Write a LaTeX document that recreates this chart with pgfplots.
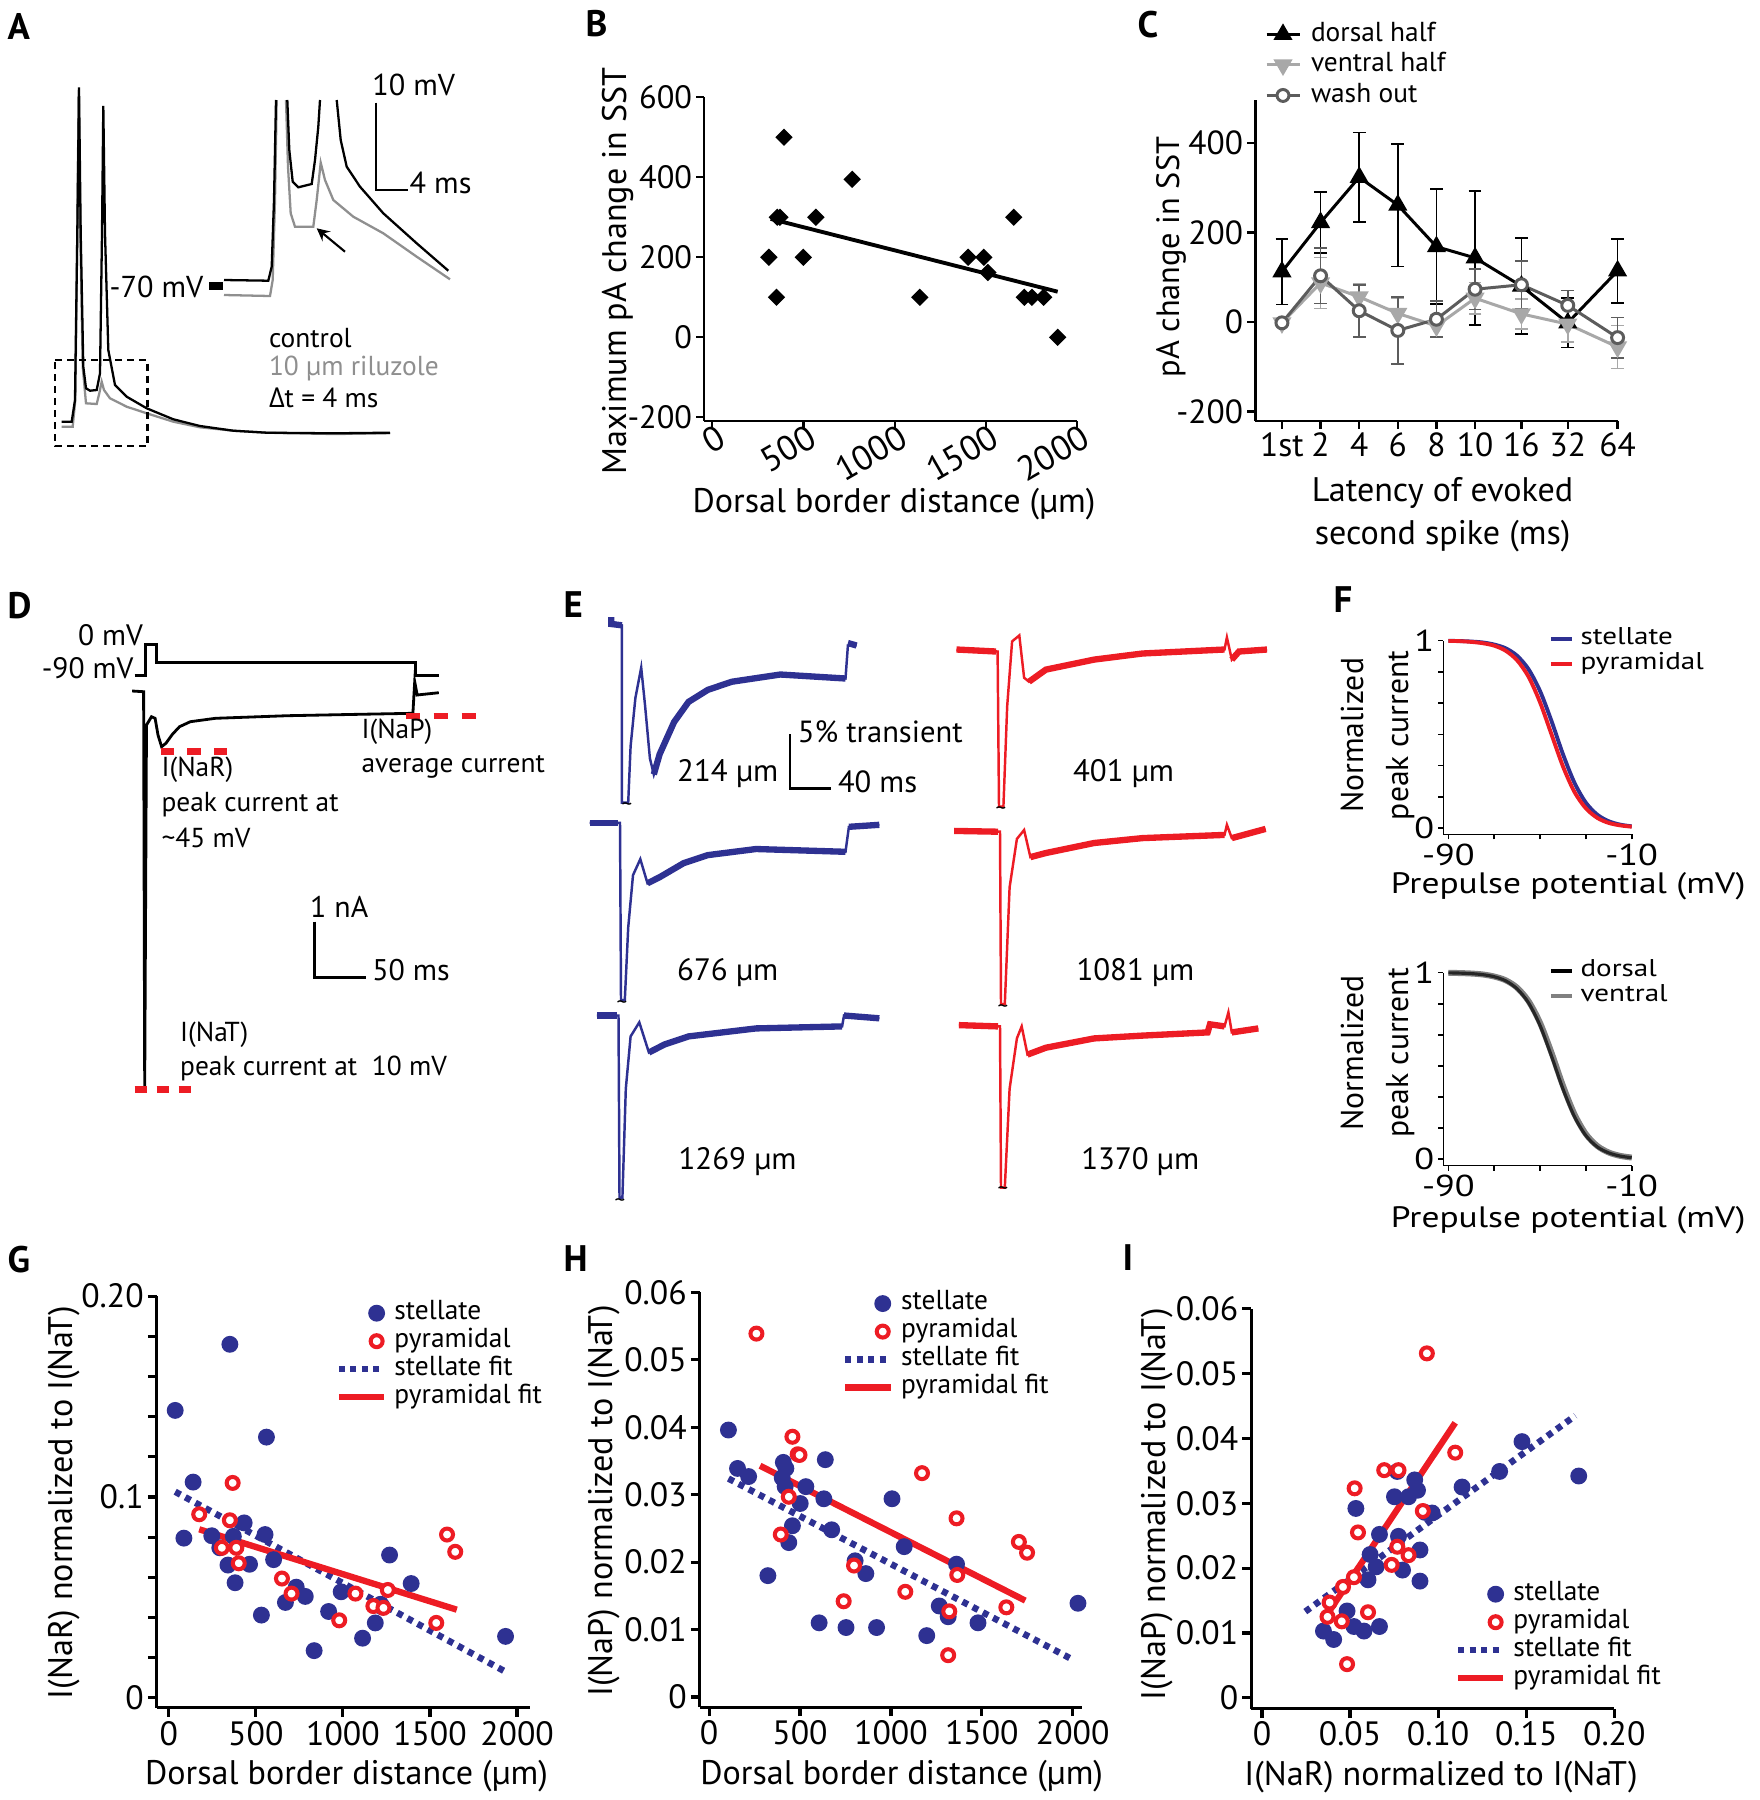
\documentclass[border=0pt]{standalone}
\usepackage{fontspec}
\setmainfont{PT Sans}
\newfontfamily\greekfont{Open Sans}
\newfontfamily\ffont[FakeStretch=1.2]{PT Sans}
\usepackage{pgfplots}
\pgfplotsset{compat=1.18}
\definecolor{stb}{HTML}{2E3192}
\definecolor{pyr}{HTML}{ED1C24}
\definecolor{lgray}{HTML}{A8A8A8}
\definecolor{dgray}{HTML}{5C5C5C}
\definecolor{rgray}{HTML}{8F8F8F}
\newcommand{\fs}[1]{\fontsize{#1}{#1}\selectfont}
\tikzset{t/.style={inner sep=0pt}}
\pgfplotsset{
  panel/.style={scale only axis, anchor=south west, axis lines*=left,
    axis line style={line width=0.9pt, black}, tick align=outside,
    major tick length=0.9mm, tick style={line width=0.9pt, black},
    every tick label/.append style={inner sep=1pt}, scaled ticks=false,
    clip=false, legend cell align=left},
  markleg/.style={legend image code/.code={\draw[##1] plot coordinates {(#1,0mm)};}},
  lineleg/.style={legend image code/.code={\draw[##1] (0mm,0mm) -- (#1,0mm);}},
  stmark/.style={stb, only marks, mark=*, mark size=2.2pt},
  pymark/.style={pyr, only marks, mark=*, mark size=1.7pt, mark options={fill=white, line width=1.15pt}},
  stfit/.style={stb, line width=1.85pt, dash pattern=on 0.6mm off 0.55mm},
  pyfit/.style={pyr, line width=1.8pt},
  sclegend/.style={legend style={draw=none, fill=none, at={#1}, anchor=north west, inner sep=0pt, outer sep=0pt, font=\fs{7.8}, row sep=0pt, column sep=0.72mm, nodes={inner sep=0pt, text height=2.0mm, text depth=0.8mm}}},
}
\begin{document}
\begin{tikzpicture}
\path[use as bounding box] (0,0) rectangle (176mm,180mm);
% ================= canvas for traces and annotations (pixel units) =================
\begin{axis}[at={(0mm,0mm)}, anchor=south west, scale only axis, width=176mm, height=180mm,
  xmin=0, xmax=1760, ymin=0, ymax=1800, y dir=reverse, hide axis, clip=false]
% panel letters
\node[t, anchor=north west, font=\fs{10.5}\bfseries] at (axis cs:7,13) {A};
\node[t, anchor=north west, font=\fs{10.5}\bfseries] at (axis cs:585,10) {B};
\node[t, anchor=north west, font=\fs{10.5}\bfseries] at (axis cs:1137,10) {C};
\node[t, anchor=north west, font=\fs{10.5}\bfseries] at (axis cs:7,592) {D};
\node[t, anchor=north west, font=\fs{10.5}\bfseries] at (axis cs:563,591) {E};
\node[t, anchor=north west, font=\fs{10.5}\bfseries] at (axis cs:1333,586) {F};
\node[t, anchor=north west, font=\fs{10.5}\bfseries] at (axis cs:7,1245) {G};
\node[t, anchor=north west, font=\fs{10.5}\bfseries] at (axis cs:563,1245) {H};
\node[t, anchor=north west, font=\fs{10.5}\bfseries] at (axis cs:1122,1244) {I};
% ---------- A ----------
\addplot[rgray, line width=0.65pt] coordinates {(61.7,426.7) (72.7,426.7) (75.3,400) (77.3,233.3) (78.7,90) (80.3,233.3) (82.7,366.7) (86,403.3) (96.7,404) (99.3,393.3) (101.7,381.7) (104,390) (110,398.3) (126.7,406.7) (146.7,413.3) (173.3,421.7) (200,427.3) (233.3,430.7) (266.7,432.7) (333.3,434) (390,433.3)};
\addplot[black, line width=0.65pt] coordinates {(61.7,421.7) (71.7,421.7) (75,400) (77.3,233.3) (79,87.3) (80.7,233.3) (83.3,366.7) (86,388.3) (90,390.7) (96.7,390) (100,373.3) (102,233.3) (103.3,106) (105,233.3) (108.3,350) (115,385) (126.7,396.7) (146.7,408.3) (173.3,419.3) (200,426) (233.3,430.7) (266.7,432.7) (333.3,433.3) (390,432.7)};
\addplot[black, line width=0.8pt, dash pattern=on 0.7mm off 0.5mm] coordinates {(55,360) (147.3,360) (147.3,446) (55,446) (55,360)};
% inset
\addplot[rgray, line width=0.65pt] coordinates {(224,295) (270,296) (272.7,280) (275,200) (276.7,100)};
\addplot[rgray, line width=0.65pt] coordinates {(286,100) (288,166.7) (290.7,213.3) (295,226.7) (313.3,226.7) (316.7,200) (320.7,162.7) (325,180) (333.3,200) (353.3,216.7) (383.3,233.3) (416.7,256.7) (450,279.3)};
\addplot[black, line width=0.65pt] coordinates {(224,280) (268.3,280.7) (271.7,266.7) (274,200) (276,100)};
\addplot[black, line width=0.65pt] coordinates {(287.3,100) (289.3,150) (292.7,181.7) (298.3,187.3) (311.7,184) (315,160) (318.3,126.7) (320,100)};
\addplot[black, line width=0.65pt] coordinates {(336.7,100) (340.7,140) (346.7,166.7) (360,186.7) (383.3,213.3) (416.7,243.3) (448.3,270.7)};
\addplot[black, line width=2.2pt] coordinates {(209.3,286) (222.7,286)};
\addplot[black, line width=0.6pt, -stealth] coordinates {(345,251.7) (316.7,228.3)};
\addplot[black, line width=0.7pt] coordinates {(376,102.7) (376,190) (408.3,190)};
\node[t, anchor=west, font=\fs{8.6}] at (axis cs:371.7,85) {10 mV};
\node[t, anchor=west, font=\fs{8.6}] at (axis cs:409,182.7) {4 ms};
\node[t, anchor=east, font=\fs{8.6}] at (axis cs:204,286.7) {-70 mV};
\node[t, anchor=west, font=\fs{7.8}] at (axis cs:268.3,338.3) {control};
\node[t, anchor=west, font=\fs{7.8}, text=rgray] at (axis cs:268.3,368.3) {10 µm riluzole};
\node[t, anchor=west, font=\fs{7.8}] at (axis cs:268.3,398.3) {{\greekfont Δ}t = 4 ms};
% ---------- D ----------
\addplot[black, line width=0.8pt] coordinates {(134.6,675.7) (145.4,675.7) (145.4,644.3) (156.9,644.3) (156.9,662.3) (415.4,662.3) (415.4,675.7) (438.8,675.7)};
\addplot[black, line width=0.8pt] coordinates {(132.1,691) (143.6,691.7) (144.7,1088.3) (146.5,725) (151.5,716.7) (155.1,718.3) (158,735) (161.6,746.7) (165.9,743.3) (172.4,734.3) (179.5,726.7) (190.3,721.7) (215.4,718.3) (251.3,717) (287.3,715.7) (359,714.3) (412.9,713.3) (414.7,681.7) (417.2,695) (423.7,694.3) (438.8,692.7)};
\addplot[pyr, line width=1.9pt, dash pattern=on 1.35mm off 1.3mm] coordinates {(160.9,751.7) (229.8,751.7)};
\addplot[pyr, line width=1.9pt, dash pattern=on 1.45mm off 1.35mm] coordinates {(405.7,716) (479.4,716)};
\addplot[pyr, line width=1.9pt, dash pattern=on 1.2mm off 1.0mm] coordinates {(134.6,1089.3) (192.1,1089.3)};
\node[t, anchor=east, font=\fs{8.4}] at (axis cs:143.6,635) {0 mV};
\node[t, anchor=east, font=\fs{8.4}] at (axis cs:134,668.3) {-90 mV};
\node[t, anchor=west, font=\fs{7.8}] at (axis cs:160.9,770) {I(NaR)};
\node[t, anchor=west, font=\fs{7.8}] at (axis cs:160.9,805) {peak current at};
\node[t, anchor=west, font=\fs{7.8}] at (axis cs:160.9,838.3) {\textasciitilde 45 mV};
\node[t, anchor=west, font=\fs{7.8}] at (axis cs:360.9,731.7) {I(NaP)};
\node[t, anchor=west, font=\fs{7.8}] at (axis cs:360.9,766.7) {average current};
\node[t, anchor=west, font=\fs{8.5}] at (axis cs:309.5,906.7) {1 nA};
\addplot[black, line width=0.8pt] coordinates {(314.2,921.7) (314.2,977.7) (366.2,977.7)};
\node[t, anchor=west, font=\fs{8.5}] at (axis cs:371.6,970) {50 ms};
\node[t, anchor=west, font=\fs{7.8}] at (axis cs:179.5,1035) {I(NaT)};
\node[t, anchor=west, font=\fs{7.8}] at (axis cs:179.5,1068.3) {peak current at\ \ 10 mV};
% ---------- E ----------
\addplot[stb, line width=0.7pt] coordinates {(611.3,621.3) (621.9,625.3) (621.9,802.7) (628.2,802.7) (630.6,746.2) (635.4,697.9) (641.2,667.6) (645.1,705.9) (649.9,758.3) (653.8,774.4) (659.6,754.3) (674.1,722) (688.5,701.9) (707.9,689.8) (732,681.7) (780.3,674.5) (845.5,678.5) (847.9,645.5) (856.6,645.5)};
\addplot[stb, line width=1.8pt] coordinates {(611.3,617) (611.3,624) (621.9,625.3)};
\addplot[stb, line width=1.8pt] coordinates {(653.8,774.4) (659.6,754.3) (674.1,722) (688.5,701.9) (707.9,689.8) (732,681.7) (780.3,674.5) (845.5,678.5)};
\addplot[stb, line width=1.8pt] coordinates {(847.9,643) (856.6,645.5)};
\addplot[stb, line width=0.7pt] coordinates {(589.6,822.8) (620,822.8) (621,1000.2) (624.8,1000.2) (628.2,927.6) (633,875.2) (640.3,859.1) (647.5,883.3) (659.6,877.2) (683.7,863.1) (707.9,855.1) (756.1,849) (845.5,851.8) (848.9,826.8) (879.3,824.8)};
\addplot[stb, line width=1.8pt] coordinates {(589.6,822.8) (618,822.8)};
\addplot[stb, line width=1.8pt] coordinates {(647.5,883.3) (659.6,877.2) (683.7,863.1) (707.9,855.1) (756.1,849) (845.5,851.8)};
\addplot[stb, line width=1.8pt] coordinates {(848.9,826.8) (879.3,824.8)};
\addplot[stb, line width=0.7pt] coordinates {(596.8,1015.5) (618.5,1015.5) (619.5,1197.7) (622.4,1197.7) (625.8,1088.8) (630.6,1036.4) (639.3,1022.3) (648.9,1052.5) (664.4,1044.5) (688.5,1036.4) (756.1,1028.4) (842.1,1026.4) (844,1015.5) (879.3,1018.3)};
\addplot[stb, line width=1.8pt] coordinates {(596.8,1015.5) (617,1015.5)};
\addplot[stb, line width=1.8pt] coordinates {(648.9,1052.5) (664.4,1044.5) (688.5,1036.4) (756.1,1028.4) (842.1,1026.4)};
\addplot[stb, line width=1.8pt] coordinates {(844,1015.5) (879.3,1018.3)};
\addplot[pyr, line width=0.7pt] coordinates {(956.5,649.5) (997.6,651.5) (999,806.7) (1003.4,806.7) (1007.2,705.9) (1012.1,641.4) (1019.3,635.4) (1024.1,677.7) (1029,681.7) (1045.9,669.6) (1094.1,659.6) (1142.4,653.5) (1224.5,649.5) (1226.9,637.4) (1231.8,659.6) (1239,651.5) (1267,649.5)};
\addplot[pyr, line width=1.8pt] coordinates {(956.5,649.5) (996,651.5)};
\addplot[pyr, line width=1.8pt] coordinates {(1029,681.7) (1045.9,669.6) (1094.1,659.6) (1142.4,653.5) (1224.5,649.5)};
\addplot[pyr, line width=1.8pt] coordinates {(1231.8,659.6) (1239,651.5) (1267,649.5)};
\addplot[pyr, line width=0.7pt] coordinates {(954.1,830.9) (1000,831.7) (1001,1004.2) (1004.8,1004.2) (1009.6,887.3) (1016.9,838.9) (1024.1,830) (1030.4,857.1) (1045.9,853) (1094.1,843) (1142.4,838.1) (1224.5,834.9) (1226.9,824.8) (1231.8,838.1) (1265.6,828.9)};
\addplot[pyr, line width=1.8pt] coordinates {(954.1,830.9) (998,831.7)};
\addplot[pyr, line width=1.8pt] coordinates {(1030.4,857.1) (1045.9,853) (1094.1,843) (1142.4,838.1) (1224.5,834.9)};
\addplot[pyr, line width=1.8pt] coordinates {(1231.8,838.1) (1265.6,828.9)};
\addplot[pyr, line width=0.7pt] coordinates {(958.9,1025.1) (1000,1026.4) (1001,1187.6) (1004.8,1187.6) (1009.6,1088.8) (1016.9,1038.4) (1021.7,1026.4) (1027.5,1054.6) (1045.9,1047.7) (1094.1,1038.4) (1142.4,1035.6) (1207.6,1032.4) (1210,1024.3) (1224.5,1026.4) (1228.4,1012.3) (1231.8,1032.4) (1258.3,1028.4)};
\addplot[pyr, line width=1.8pt] coordinates {(958.9,1025.1) (998,1026.4)};
\addplot[pyr, line width=1.8pt] coordinates {(1027.5,1054.6) (1045.9,1047.7) (1094.1,1038.4) (1142.4,1035.6) (1207.6,1032.4) (1210,1024.3) (1224.5,1026.4)};
\addplot[pyr, line width=1.8pt] coordinates {(1231.8,1032.4) (1258.3,1028.4)};
\node[t, font=\fs{6}] at (axis cs:627,807) {\textasciitilde};
\node[t, font=\fs{6}] at (axis cs:1001,811) {\textasciitilde};
\node[t, font=\fs{6}] at (axis cs:622,1005) {\textasciitilde};
\node[t, font=\fs{6}] at (axis cs:1003,1009) {\textasciitilde};
\node[t, font=\fs{6}] at (axis cs:620,1203) {\textasciitilde};
\node[t, font=\fs{6}] at (axis cs:1003,1191) {\textasciitilde};
\addplot[black, line width=0.8pt] coordinates {(790,734.1) (790,788.5) (831,788.5)};
\node[t, anchor=west, font=\fs{8.7}] at (axis cs:797.2,732.1) {5\% transient};
\node[t, anchor=west, font=\fs{8.7}] at (axis cs:837.3,781.7) {40 ms};
\node[t, anchor=west, font=\fs{8.8}] at (axis cs:676.5,773.6) {214 µm};
\node[t, anchor=west, font=\fs{8.8}] at (axis cs:1072.4,773.6) {401 µm};
\node[t, anchor=west, font=\fs{8.8}] at (axis cs:676.5,972.7) {676 µm};
\node[t, anchor=west, font=\fs{8.8}] at (axis cs:1075.8,972.7) {1081 µm};
\node[t, anchor=west, font=\fs{8.8}] at (axis cs:677.9,1161.4) {1269 µm};
\node[t, anchor=west, font=\fs{8.8}] at (axis cs:1080.6,1161.4) {1370 µm};
\end{axis}
% ================= B =================
\begin{axis}[panel, at={(70.43mm,137.93mm)}, width=37.27mm, height=32.34mm,
  xmin=-44, xmax=2000, ymin=-208.5, ymax=600,
  axis line style={line width=0.6pt}, tick style={line width=0.6pt}, major tick length=0.8mm,
  xtick={0,500,1000,1500,2000}, xticklabels={0,500,1000,1500,2000},
  ytick={-200,0,200,400,600}, yticklabels={-200,0,200,400,600},
  xticklabel style={font=\fs{9.9}, anchor=east, inner sep=3.07pt, xshift=1.9mm, rotate=30},
  yticklabel style={font=\fs{9.2}},
  xlabel={Dorsal border distance (µm)}, ylabel={Maximum pA change in SST},
  xlabel style={font=\fs{9.7}, at={(axis description cs:0.509,-0.2576)}, anchor=center},
  ylabel style={font=\fs{9.7}, at={(axis description cs:-0.2316,0.463)}, anchor=center}]
\addplot[black, only marks, mark=square*, mark size=1.55pt, mark options={rotate=45}] coordinates {(310,200) (356,300) (371,300) (352,100) (393,500) (499,200) (568,300) (767,395) (1138,100) (1403,200) (1489,200) (1511,162) (1653,300) (1711,100) (1753,100) (1817,100) (1894,0)};
\addplot[black, line width=1.1pt] coordinates {(320,296) (1894,114)};
\end{axis}
% ================= C =================
\begin{axis}[panel, at={(125.53mm,137.92mm)}, width=36.23mm, height=32.1mm,
  xmin=-0.69, xmax=8.69, ymin=-220.7, ymax=496,
  axis line style={line width=0.7pt}, tick style={line width=0.7pt}, major tick length=0.8mm,
  xtick={0,1,2,3,4,5,6.2,7.4,8.69}, xticklabels={1st,2,4,6,8,10,16,32,64},
  ytick={-200,0,200,400}, yticklabels={-200,0,200,400},
  tick label style={font=\fs{9.5}},
  xlabel={Latency of evoked\\second spike (ms)},
  xlabel style={align=center, font=\fontsize{9.7}{12.2}\selectfont, at={(axis description cs:0.517,-0.292)}, anchor=center},
  ylabel={pA change in SST},
  ylabel style={font=\fs{9.2}, at={(axis description cs:-0.2327,0.51)}, anchor=center},
  legend style={draw=none, fill=none, at={(0.0268,1.251)}, anchor=north west, inner sep=0pt, outer sep=0pt, font=\fs{7.8}, row sep=0pt, column sep=1mm, nodes={inner sep=0pt, text height=2.2mm, text depth=0.85mm}},
  legend image code/.code={\draw[mark repeat=2,mark phase=2,#1] plot coordinates {(0mm,0mm) (1.65mm,0mm) (3.3mm,0mm)};}]
\addplot[black, line width=0.85pt, mark=triangle*, mark size=2.3pt, mark options={solid},
  error bars/y dir=both, error bars/y explicit, error bars/error bar style={line width=0.5pt},
  error bars/error mark options={rotate=90, mark size=1.8pt, line width=0.5pt}]
  coordinates {(0,112) +- (0,73) (1,222) +- (0,68) (2,323) +- (0,100) (3,261) +- (0,137) (4,168) +- (0,128) (5,143) +- (0,150) (6.2,80) +- (0,107) (7.4,-2) +- (0,55) (8.69,114) +- (0,72)};
\addlegendentry{dorsal half}
\addplot[lgray, line width=0.85pt, mark=triangle*, mark size=2.3pt, mark options={rotate=180, fill=lgray, solid},
  error bars/y dir=both, error bars/y explicit, error bars/error bar style={line width=0.5pt},
  error bars/error mark options={rotate=90, mark size=1.8pt, line width=0.5pt}]
  coordinates {(0,-2) +- (0,6) (1,87) +- (0,57) (2,56) +- (0,30) (3,19) +- (0,35) (4,-9) +- (0,25) (5,53) +- (0,35) (6.2,18) +- (0,33) (7.4,-5) +- (0,40) (8.69,-56) +- (0,48)};
\addlegendentry{ventral half}
\addplot[dgray, line width=0.85pt, mark=*, mark size=1.7pt, mark options={fill=white, draw=dgray, solid},
  error bars/y dir=both, error bars/y explicit, error bars/error bar style={line width=0.5pt},
  error bars/error mark options={rotate=90, mark size=1.8pt, line width=0.5pt}]
  coordinates {(0,-2) +- (0,5) (1,103) +- (0,62) (2,25) +- (0,58) (3,-19) +- (0,75) (4,6) +- (0,40) (5,73) +- (0,45) (6.2,83) +- (0,53) (7.4,37) +- (0,33) (8.69,-35) +- (0,45)};
\addlegendentry{wash out}
\end{axis}
% ================= F1 =================
\begin{axis}[panel, at={(144.33mm,96.56mm)}, width=18.84mm, height=19.38mm,
  xmin=-92.2, xmax=-10, ymin=-0.034, ymax=1,
  axis line style={line width=0.45pt}, tick style={line width=0.45pt}, major tick length=0.5mm,
  xtick={-90,-70,-50,-30,-10}, xticklabels={-90,,,,-10},
  ytick={0,0.1667,0.3333,0.5,0.6667,0.8333,1}, yticklabels={0,,,,,,1},
  tick label style={font=\ffont\fs{8.6}},
  xlabel={Prepulse potential (mV)},
  xlabel style={font=\ffont\fs{8.4}, at={(axis description cs:0.663,-0.265)}, anchor=center},
  ylabel={Normalized\\peak current},
  ylabel style={align=center, font=\fontsize{9}{12.8}\selectfont, at={(axis description cs:-0.349,0.511)}, anchor=center},
  legend style={draw=none, fill=none, at={(0.561,1.071)}, anchor=north west, inner sep=0pt, outer sep=0pt, font=\ffont\fs{6.9}, row sep=0pt, column sep=0.67mm, nodes={inner sep=0pt, text height=1.75mm, text depth=0.75mm}},
  legend image code/.code={\draw[#1] (0mm,0mm) -- (2.1mm,0mm);}]
\addplot[stb, line width=1.1pt, smooth] coordinates {(-90,0.999) (-85,0.9975) (-80,0.995) (-75,0.990) (-70,0.979) (-65,0.959) (-60,0.919) (-55,0.847) (-50,0.731) (-45,0.571) (-40,0.394) (-35,0.242) (-30,0.135) (-25,0.071) (-20,0.036) (-15,0.018) (-10,0.009)};
\addlegendentry{stellate}
\addplot[pyr, line width=1.1pt, smooth] coordinates {(-90,0.998) (-85,0.997) (-80,0.993) (-75,0.986) (-70,0.973) (-65,0.946) (-60,0.895) (-55,0.807) (-50,0.671) (-45,0.5) (-40,0.329) (-35,0.193) (-30,0.105) (-25,0.054) (-20,0.027) (-15,0.014) (-10,0.007)};
\addlegendentry{pyramidal}
\end{axis}
% ================= F2 =================
\begin{axis}[panel, at={(144.33mm,63.44mm)}, width=18.84mm, height=19.3mm,
  xmin=-92.2, xmax=-10, ymin=-0.034, ymax=1,
  axis line style={line width=0.45pt}, tick style={line width=0.45pt}, major tick length=0.5mm,
  xtick={-90,-70,-50,-30,-10}, xticklabels={-90,,,,-10},
  ytick={0,0.1667,0.3333,0.5,0.6667,0.8333,1}, yticklabels={0,,,,,,1},
  tick label style={font=\ffont\fs{8.6}},
  xlabel={Prepulse potential (mV)},
  xlabel style={font=\ffont\fs{8.4}, at={(axis description cs:0.663,-0.282)}, anchor=center},
  ylabel={Normalized\\peak current},
  ylabel style={align=center, font=\fontsize{9}{12.8}\selectfont, at={(axis description cs:-0.349,0.584)}, anchor=center},
  legend style={draw=none, fill=none, at={(0.561,1.071)}, anchor=north west, inner sep=0pt, outer sep=0pt, font=\ffont\fs{6.9}, row sep=0pt, column sep=0.67mm, nodes={inner sep=0pt, text height=1.75mm, text depth=0.75mm}},
  legend image code/.code={\draw[#1] (0mm,0mm) -- (2.1mm,0mm);}]
\addlegendimage{black, line width=1.1pt}
\addlegendentry{dorsal}
\addlegendimage{gray, line width=1.1pt}
\addlegendentry{ventral}
\addplot[gray, line width=1.7pt, smooth, forget plot] coordinates {(-90,0.999) (-85,0.9975) (-80,0.995) (-75,0.990) (-70,0.979) (-65,0.959) (-60,0.919) (-55,0.847) (-50,0.731) (-45,0.571) (-40,0.394) (-35,0.242) (-30,0.135) (-25,0.071) (-20,0.036) (-15,0.018) (-10,0.009)};
\addplot[black!85, line width=0.9pt, smooth, forget plot] coordinates {(-90,0.9987) (-85,0.9973) (-80,0.9946) (-75,0.989) (-70,0.978) (-65,0.956) (-60,0.913) (-55,0.838) (-50,0.717) (-45,0.553) (-40,0.377) (-35,0.229) (-30,0.127) (-25,0.066) (-20,0.034) (-15,0.017) (-10,0.008)};
\end{axis}
% ================= G =================
\begin{axis}[panel, at={(15.69mm,9.21mm)}, width=37.27mm, height=41.18mm,
  xmin=-68, xmax=2072, ymin=-0.005, ymax=0.2,
  xtick={0,500,1000,1500,2000}, xticklabels={0,500,1000,1500,2000},
  ytick={0,0.02,0.04,0.06,0.08,0.1,0.12,0.14,0.16,0.18,0.2}, yticklabels={0,,,,,0.1,,,,,0.20},
  tick label style={font=\fs{9.6}},
  xlabel={Dorsal border distance (µm)}, ylabel={I(NaR) normalized to I(NaT)},
  xlabel style={font=\fs{9.7}, at={(axis description cs:0.5087,-0.1646)}, anchor=center},
  ylabel style={font=\fs{9.7}, at={(axis description cs:-0.2477,0.4988)}, anchor=center},
  sclegend={(0.4797,0.9925)}]
\addplot[stmark, markleg=3.77mm] coordinates {(37,0.1431) (351,0.176) (561,0.1298) (140,0.1074) (87,0.0795) (247,0.0807) (293,0.0747) (340,0.0661) (371,0.0804) (433,0.0871) (464,0.0665) (381,0.0573) (553,0.0813) (602,0.0688) (532,0.0412) (670,0.0475) (732,0.0551) (784,0.0505) (835,0.0235) (918,0.0430) (990,0.0528) (1113,0.0297) (1186,0.0373) (1217,0.0466) (1268,0.0711) (1392,0.0569) (1934,0.0306) (1227,0.0452)};
\addlegendentry{stellate}
\addplot[pymark, markleg=3.77mm] coordinates {(175,0.0914) (367,0.107) (351,0.0884) (305,0.0747) (388,0.0747) (402,0.067) (650,0.0594) (705,0.0519) (979,0.0386) (1072,0.0519) (1175,0.0457) (1233,0.0448) (1258,0.0537) (1536,0.0373) (1598,0.0813) (1645,0.0727)};
\addlegendentry{pyramidal}
\addplot[stfit, lineleg=4.5mm] coordinates {(37,0.1026) (1938,0.0128)};
\addlegendentry{stellate fit}
\addplot[pyfit, lineleg=4.5mm] coordinates {(175,0.0839) (1654,0.0439)};
\addlegendentry{pyramidal fit}
\end{axis}
% ================= H =================
\begin{axis}[panel, at={(69.99mm,9.29mm)}, width=38.17mm, height=41.46mm,
  xmin=-51, xmax=2049, ymin=-0.0015, ymax=0.06,
  xtick={0,500,1000,1500,2000}, xticklabels={0,500,1000,1500,2000},
  ytick={0,0.01,0.02,0.03,0.04,0.05,0.06}, yticklabels={0,0.01,0.02,0.03,0.04,0.05,0.06},
  tick label style={font=\fs{9.6}},
  xlabel={Dorsal border distance (µm)}, ylabel={I(NaP) normalized to I(NaT)},
  xlabel style={font=\fs{9.7}, at={(axis description cs:0.5287,-0.1655)}, anchor=center},
  ylabel style={font=\fs{9.7}, at={(axis description cs:-0.2507,0.498)}, anchor=center},
  sclegend={(0.372,1.007)}]
\addplot[stmark, markleg=3.76mm] coordinates {(106,0.0396) (156,0.0339) (217,0.0327) (323,0.0180) (408,0.0348) (402,0.0325) (418,0.0312) (422,0.0339) (458,0.0254) (438,0.0229) (501,0.0287) (532,0.0312) (631,0.0294) (639,0.0352) (674,0.0248) (605,0.0110) (753,0.0103) (803,0.0202) (862,0.0183) (921,0.0103) (1006,0.0294) (1073,0.0223) (1197,0.0091) (1266,0.0135) (1315,0.0119) (1361,0.0197) (1479,0.0110) (2029,0.0139)};
\addlegendentry{stellate}
\addplot[pymark, markleg=3.76mm] coordinates {(260,0.0539) (458,0.0386) (487,0.0360) (497,0.0359) (438,0.0297) (394,0.0241) (740,0.0142) (797,0.0195) (1171,0.0332) (1361,0.0265) (1365,0.0181) (1079,0.0156) (1321,0.0127) (1315,0.0062) (1635,0.0133) (1704,0.0230) (1749,0.0214)};
\addlegendentry{pyramidal}
\addplot[stfit, lineleg=4.55mm] coordinates {(106,0.0324) (1996,0.0056)};
\addlegendentry{stellate fit}
\addplot[pyfit, lineleg=4.55mm] coordinates {(280,0.0343) (1739,0.0143)};
\addlegendentry{pyramidal fit}
\end{axis}
% ================= I =================
\begin{axis}[panel, at={(125.14mm,9.14mm)}, width=36.29mm, height=40.0mm,
  xmin=-0.006, xmax=0.2, ymin=-0.00165, ymax=0.06,
  xtick={0,0.05,0.1,0.15,0.2}, xticklabels={0,0.05,0.10,0.15,0.20},
  ytick={0,0.01,0.02,0.03,0.04,0.05,0.06}, yticklabels={0,0.01,0.02,0.03,0.04,0.05,0.06},
  tick label style={font=\fs{9.6}},
  xlabel={I(NaR) normalized to I(NaT)}, ylabel={I(NaP) normalized to I(NaT)},
  xlabel style={font=\fs{9.7}, at={(axis description cs:0.5225,-0.172)}, anchor=center},
  ylabel style={font=\fs{9.7}, at={(axis description cs:-0.259,0.511)}, anchor=center},
  sclegend={(0.561,0.321)}]
\addplot[stmark, markleg=3.74mm] coordinates {(0.0349,0.0103) (0.0407,0.0090) (0.0483,0.0134) (0.0522,0.0110) (0.0579,0.0103) (0.0667,0.0110) (0.0533,0.0292) (0.0602,0.0182) (0.0614,0.0221) (0.0648,0.0202) (0.0667,0.0252) (0.0752,0.0310) (0.0768,0.0349) (0.0775,0.0249) (0.0798,0.0197) (0.0832,0.0310) (0.0867,0.0336) (0.0883,0.0320) (0.0897,0.0228) (0.0897,0.0180) (0.0924,0.0286) (0.0966,0.0285) (0.1136,0.0325) (0.1349,0.0349) (0.1476,0.0395) (0.1798,0.0342)};
\addlegendentry{stellate}
\addplot[pymark, markleg=3.74mm] coordinates {(0.0372,0.0125) (0.0384,0.0147) (0.0453,0.0118) (0.0460,0.0171) (0.0483,0.0052) (0.0522,0.0186) (0.0526,0.0323) (0.0545,0.0255) (0.0602,0.0132) (0.0694,0.0351) (0.0775,0.0351) (0.0736,0.0205) (0.0768,0.0233) (0.0832,0.0220) (0.0913,0.0288) (0.0936,0.0531) (0.1097,0.0378)};
\addlegendentry{pyramidal}
\addplot[stfit, lineleg=4.46mm] coordinates {(0.0246,0.0133) (0.1779,0.0435)};
\addlegendentry{stellate fit}
\addplot[pyfit, lineleg=4.46mm] coordinates {(0.0368,0.0128) (0.1097,0.0424)};
\addlegendentry{pyramidal fit}
\end{axis}
\end{tikzpicture}
\end{document}
